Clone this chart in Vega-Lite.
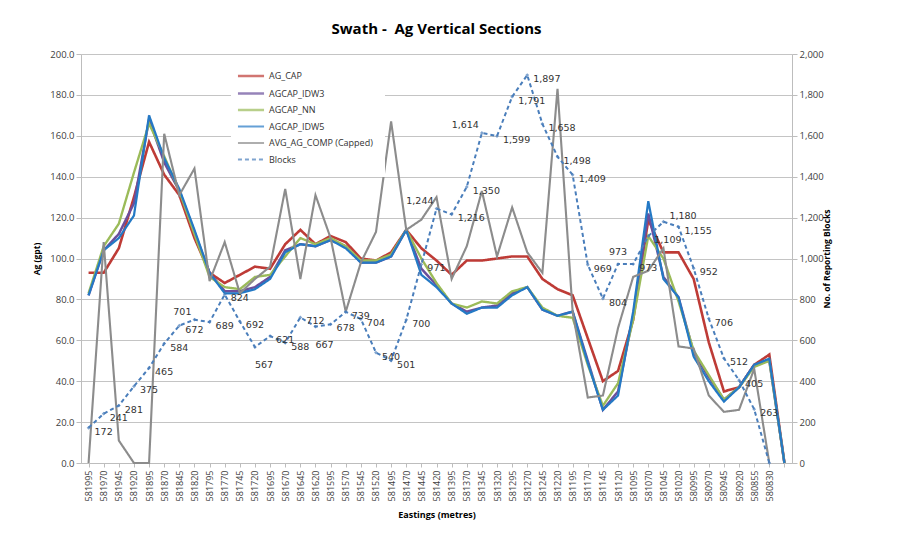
{
  "$schema": "https://vega.github.io/schema/vega-lite/v6.json",
  "width": 711,
  "height": 409,
  "padding": {"left": 32, "top": 22, "right": 10, "bottom": 5},
  "background": "white",
  "view": {"stroke": null},
  "config": {
    "font": "Open Sans",
    "axis": {"labelFont": "Open Sans", "titleFont": "Open Sans", "labelColor": "#404040", "titleColor": "#000000"}
  },
  "title": {"text": "Swath - \u00a0Ag Vertical Sections", "font": "Open Sans", "fontSize": 15, "fontWeight": "bold", "color": "#000000", "anchor": "middle", "offset": 12},
  "data": {"values": [
    {"Easting": "581995", "AG_CAP": 93, "AGCAP_IDW3": 82, "AGCAP_NN": 83, "AGCAP_IDW5": 82, "AVG_AG_COMP (Capped)": 0, "Blocks": 172},
    {"Easting": "581970", "AG_CAP": 93, "AGCAP_IDW3": 104, "AGCAP_NN": 106, "AGCAP_IDW5": 104, "AVG_AG_COMP (Capped)": 108, "Blocks": 241},
    {"Easting": "581945", "AG_CAP": 105, "AGCAP_IDW3": 112, "AGCAP_NN": 117, "AGCAP_IDW5": 110, "AVG_AG_COMP (Capped)": 11, "Blocks": 281},
    {"Easting": "581920", "AG_CAP": 130, "AGCAP_IDW3": 127, "AGCAP_NN": 142, "AGCAP_IDW5": 121, "AVG_AG_COMP (Capped)": 0, "Blocks": 375},
    {"Easting": "581895", "AG_CAP": 157, "AGCAP_IDW3": 168, "AGCAP_NN": 166, "AGCAP_IDW5": 170, "AVG_AG_COMP (Capped)": 0, "Blocks": 465},
    {"Easting": "581870", "AG_CAP": 141, "AGCAP_IDW3": 147, "AGCAP_NN": 150, "AGCAP_IDW5": 149, "AVG_AG_COMP (Capped)": 161, "Blocks": 584},
    {"Easting": "581845", "AG_CAP": 131, "AGCAP_IDW3": 133, "AGCAP_NN": 133, "AGCAP_IDW5": 134, "AVG_AG_COMP (Capped)": 131, "Blocks": 672},
    {"Easting": "581820", "AG_CAP": 110, "AGCAP_IDW3": 113, "AGCAP_NN": 112, "AGCAP_IDW5": 114, "AVG_AG_COMP (Capped)": 144, "Blocks": 701},
    {"Easting": "581795", "AG_CAP": 93, "AGCAP_IDW3": 93, "AGCAP_NN": 91, "AGCAP_IDW5": 93, "AVG_AG_COMP (Capped)": 89, "Blocks": 689},
    {"Easting": "581770", "AG_CAP": 88, "AGCAP_IDW3": 84, "AGCAP_NN": 86, "AGCAP_IDW5": 83, "AVG_AG_COMP (Capped)": 108, "Blocks": 824},
    {"Easting": "581745", "AG_CAP": 92, "AGCAP_IDW3": 84, "AGCAP_NN": 85, "AGCAP_IDW5": 83, "AVG_AG_COMP (Capped)": 83, "Blocks": 692},
    {"Easting": "581720", "AG_CAP": 96, "AGCAP_IDW3": 86, "AGCAP_NN": 91, "AGCAP_IDW5": 85, "AVG_AG_COMP (Capped)": 90, "Blocks": 567},
    {"Easting": "581695", "AG_CAP": 95, "AGCAP_IDW3": 91, "AGCAP_NN": 92, "AGCAP_IDW5": 90, "AVG_AG_COMP (Capped)": 96, "Blocks": 621},
    {"Easting": "581670", "AG_CAP": 107, "AGCAP_IDW3": 104, "AGCAP_NN": 101, "AGCAP_IDW5": 103, "AVG_AG_COMP (Capped)": 134, "Blocks": 588},
    {"Easting": "581645", "AG_CAP": 114, "AGCAP_IDW3": 107, "AGCAP_NN": 110, "AGCAP_IDW5": 107, "AVG_AG_COMP (Capped)": 90, "Blocks": 712},
    {"Easting": "581620", "AG_CAP": 107, "AGCAP_IDW3": 106, "AGCAP_NN": 107, "AGCAP_IDW5": 106, "AVG_AG_COMP (Capped)": 131, "Blocks": 667},
    {"Easting": "581595", "AG_CAP": 111, "AGCAP_IDW3": 109, "AGCAP_NN": 110, "AGCAP_IDW5": 109, "AVG_AG_COMP (Capped)": 110, "Blocks": 678},
    {"Easting": "581570", "AG_CAP": 108, "AGCAP_IDW3": 106, "AGCAP_NN": 106, "AGCAP_IDW5": 105, "AVG_AG_COMP (Capped)": 74, "Blocks": 739},
    {"Easting": "581545", "AG_CAP": 100, "AGCAP_IDW3": 98, "AGCAP_NN": 99, "AGCAP_IDW5": 98, "AVG_AG_COMP (Capped)": 98, "Blocks": 704},
    {"Easting": "581520", "AG_CAP": 99, "AGCAP_IDW3": 98, "AGCAP_NN": 99, "AGCAP_IDW5": 98, "AVG_AG_COMP (Capped)": 113, "Blocks": 540},
    {"Easting": "581495", "AG_CAP": 103, "AGCAP_IDW3": 101, "AGCAP_NN": 102, "AGCAP_IDW5": 101, "AVG_AG_COMP (Capped)": 167, "Blocks": 501},
    {"Easting": "581470", "AG_CAP": 114, "AGCAP_IDW3": 114, "AGCAP_NN": 114, "AGCAP_IDW5": 114, "AVG_AG_COMP (Capped)": 114, "Blocks": 700},
    {"Easting": "581445", "AG_CAP": 105, "AGCAP_IDW3": 95, "AGCAP_NN": 100, "AGCAP_IDW5": 92, "AVG_AG_COMP (Capped)": 119, "Blocks": 971},
    {"Easting": "581420", "AG_CAP": 99, "AGCAP_IDW3": 87, "AGCAP_NN": 88, "AGCAP_IDW5": 86, "AVG_AG_COMP (Capped)": 130, "Blocks": 1244},
    {"Easting": "581395", "AG_CAP": 92, "AGCAP_IDW3": 78, "AGCAP_NN": 78, "AGCAP_IDW5": 78, "AVG_AG_COMP (Capped)": 90, "Blocks": 1216},
    {"Easting": "581370", "AG_CAP": 99, "AGCAP_IDW3": 74, "AGCAP_NN": 76, "AGCAP_IDW5": 73, "AVG_AG_COMP (Capped)": 106, "Blocks": 1350},
    {"Easting": "581345", "AG_CAP": 99, "AGCAP_IDW3": 76, "AGCAP_NN": 79, "AGCAP_IDW5": 76, "AVG_AG_COMP (Capped)": 133, "Blocks": 1614},
    {"Easting": "581320", "AG_CAP": 100, "AGCAP_IDW3": 77, "AGCAP_NN": 78, "AGCAP_IDW5": 76, "AVG_AG_COMP (Capped)": 101, "Blocks": 1599},
    {"Easting": "581295", "AG_CAP": 101, "AGCAP_IDW3": 83, "AGCAP_NN": 84, "AGCAP_IDW5": 82, "AVG_AG_COMP (Capped)": 125, "Blocks": 1791},
    {"Easting": "581270", "AG_CAP": 101, "AGCAP_IDW3": 86, "AGCAP_NN": 86, "AGCAP_IDW5": 86, "AVG_AG_COMP (Capped)": 103, "Blocks": 1897},
    {"Easting": "581245", "AG_CAP": 90, "AGCAP_IDW3": 75, "AGCAP_NN": 76, "AGCAP_IDW5": 75, "AVG_AG_COMP (Capped)": 93, "Blocks": 1658},
    {"Easting": "581220", "AG_CAP": 85, "AGCAP_IDW3": 72, "AGCAP_NN": 72, "AGCAP_IDW5": 72, "AVG_AG_COMP (Capped)": 183, "Blocks": 1498},
    {"Easting": "581195", "AG_CAP": 82, "AGCAP_IDW3": 74, "AGCAP_NN": 71, "AGCAP_IDW5": 74, "AVG_AG_COMP (Capped)": 74, "Blocks": 1409},
    {"Easting": "581170", "AG_CAP": 61, "AGCAP_IDW3": 50, "AGCAP_NN": 48, "AGCAP_IDW5": 49, "AVG_AG_COMP (Capped)": 32, "Blocks": 969},
    {"Easting": "581145", "AG_CAP": 40, "AGCAP_IDW3": 26, "AGCAP_NN": 28, "AGCAP_IDW5": 26, "AVG_AG_COMP (Capped)": 33, "Blocks": 804},
    {"Easting": "581120", "AG_CAP": 45, "AGCAP_IDW3": 35, "AGCAP_NN": 39, "AGCAP_IDW5": 33, "AVG_AG_COMP (Capped)": 66, "Blocks": 973},
    {"Easting": "581095", "AG_CAP": 70, "AGCAP_IDW3": 72, "AGCAP_NN": 70, "AGCAP_IDW5": 74, "AVG_AG_COMP (Capped)": 91, "Blocks": 973},
    {"Easting": "581070", "AG_CAP": 119, "AGCAP_IDW3": 122, "AGCAP_NN": 111, "AGCAP_IDW5": 128, "AVG_AG_COMP (Capped)": 94, "Blocks": 1109},
    {"Easting": "581045", "AG_CAP": 103, "AGCAP_IDW3": 91, "AGCAP_NN": 100, "AGCAP_IDW5": 90, "AVG_AG_COMP (Capped)": 105, "Blocks": 1180},
    {"Easting": "581020", "AG_CAP": 103, "AGCAP_IDW3": 81, "AGCAP_NN": 79, "AGCAP_IDW5": 81, "AVG_AG_COMP (Capped)": 57, "Blocks": 1155},
    {"Easting": "580995", "AG_CAP": 90, "AGCAP_IDW3": 54, "AGCAP_NN": 55, "AGCAP_IDW5": 52, "AVG_AG_COMP (Capped)": 56, "Blocks": 952},
    {"Easting": "580970", "AG_CAP": 59, "AGCAP_IDW3": 42, "AGCAP_NN": 43, "AGCAP_IDW5": 40, "AVG_AG_COMP (Capped)": 33, "Blocks": 706},
    {"Easting": "580945", "AG_CAP": 35, "AGCAP_IDW3": 31, "AGCAP_NN": 31, "AGCAP_IDW5": 30, "AVG_AG_COMP (Capped)": 25, "Blocks": 512},
    {"Easting": "580920", "AG_CAP": 37, "AGCAP_IDW3": 37, "AGCAP_NN": 37, "AGCAP_IDW5": 37, "AVG_AG_COMP (Capped)": 26, "Blocks": 405},
    {"Easting": "580855", "AG_CAP": 48, "AGCAP_IDW3": 48, "AGCAP_NN": 47, "AGCAP_IDW5": 48, "AVG_AG_COMP (Capped)": 46, "Blocks": 263},
    {"Easting": "580830", "AG_CAP": 53, "AGCAP_IDW3": 50, "AGCAP_NN": 50, "AGCAP_IDW5": 51, "AVG_AG_COMP (Capped)": 0, "Blocks": 0},
    {"Easting": "", "AG_CAP": 0, "AGCAP_IDW3": 0, "AGCAP_NN": 0, "AGCAP_IDW5": 0, "AVG_AG_COMP (Capped)": null, "Blocks": null}
  ]},
  "transform": [
    {"fold": ["AG_CAP", "AGCAP_IDW3", "AGCAP_NN", "AGCAP_IDW5", "AVG_AG_COMP (Capped)", "Blocks"], "as": ["series", "value"]}
  ],
  "encoding": {
    "x": {
      "field": "Easting", "type": "ordinal", "sort": null,
      "scale": {"type": "point", "padding": 0.5},
      "axis": {"labelAngle": -90, "labelFontSize": 9, "labelPadding": 3, "tickSize": 4, "tickColor": "#bdbdbd", "domainColor": "#bdbdbd",
        "title": "Eastings (metres)", "titleFontSize": 9, "titleFontWeight": "bold", "titlePadding": 10}
    },
    "color": {
      "field": "series", "type": "nominal",
      "scale": {"domain": ["AG_CAP", "AGCAP_IDW3", "AGCAP_NN", "AGCAP_IDW5", "AVG_AG_COMP (Capped)", "Blocks"],
                "range": ["#be3b36", "#6a4f9c", "#9bbb59", "#2479c5", "#8c8c8c", "#4a7ebb"]},
      "legend": {"orient": "none", "legendX": 150, "legendY": 2, "title": null, "fillColor": "white", "padding": 12,
        "symbolType": "M-2,0L2,0", "symbolSize": 170, "symbolFillColor": "transparent", "labelFontSize": 9, "labelColor": "#333", "rowPadding": 3.5, "labelOffset": 10}
    },
    "strokeDash": {
      "field": "series", "type": "nominal",
      "scale": {"domain": ["AG_CAP", "AGCAP_IDW3", "AGCAP_NN", "AGCAP_IDW5", "AVG_AG_COMP (Capped)", "Blocks"],
                "range": [[1, 0], [1, 0], [1, 0], [1, 0], [1, 0], [4, 3]]},
      "legend": {"orient": "none", "legendX": 150, "legendY": 2, "title": null}
    },
    "strokeWidth": {
      "field": "series", "type": "nominal",
      "scale": {"domain": ["AG_CAP", "AGCAP_IDW3", "AGCAP_NN", "AGCAP_IDW5", "AVG_AG_COMP (Capped)", "Blocks"],
                "range": [2.6, 2, 1, 1.8, 1, 1.2]},
      "legend": {"orient": "none", "legendX": 150, "legendY": 2, "title": null}
    }
  },
  "layer": [
    {
      "transform": [{"filter": "datum.series != 'Blocks'"}],
      "mark": {"type": "line"},
      "encoding": {
        "y": {"field": "value", "type": "quantitative", "scale": {"domain": [0, 200]},
          "axis": {"values": [0, 20, 40, 60, 80, 100, 120, 140, 160, 180, 200], "format": ".1f", "labelFontSize": 9.5,
            "grid": true, "gridColor": "#c4c4c4", "domainColor": "#bdbdbd", "tickColor": "#bdbdbd", "tickSize": 5,
            "title": "Ag (gpt)", "titleFontSize": 8.5, "titleFontWeight": "bold", "titlePadding": 8}}
      }
    },
    {
      "transform": [{"filter": "datum.series == 'Blocks'"}],
      "encoding": {
        "y": {"field": "value", "type": "quantitative", "scale": {"domain": [0, 2000]},
          "axis": {"orient": "right", "values": [0, 200, 400, 600, 800, 1000, 1200, 1400, 1600, 1800, 2000], "format": ",.0f", "labelFontSize": 9.5,
            "grid": false, "domainColor": "#bdbdbd", "tickColor": "#bdbdbd", "tickSize": 5,
            "title": "No. of Reporting Blocks", "titleAngle": 270, "titleFontSize": 8.5, "titleFontWeight": "bold", "titlePadding": 8}}
      },
      "layer": [
        {"mark": {"type": "line"}},
        {"mark": {"type": "point", "shape": "diamond", "filled": true, "size": 14, "color": "#4a7ebb"}},
        {"transform": [{"filter": "datum.value > 0 && indexof(['581820','581420','581345','581120','581720','581620','581045'], datum.Easting) < 0"}],
         "mark": {"type": "text", "align": "left", "dx": 6, "dy": 4, "fontSize": 9.5, "font": "DejaVu Sans", "color": "#333333"},
         "encoding": {"text": {"field": "value", "type": "quantitative", "format": ","}, "color": {"value": "#333333"}, "strokeDash": {"value": [1,0]}, "strokeWidth": {"value": 0}}},
        {"transform": [{"filter": "indexof(['581820','581420','581345'], datum.Easting) >= 0"}],
         "mark": {"type": "text", "align": "right", "dx": -3, "dy": -8, "fontSize": 9.5, "font": "DejaVu Sans", "color": "#333333"},
         "encoding": {"text": {"field": "value", "type": "quantitative", "format": ","}, "color": {"value": "#333333"}, "strokeDash": {"value": [1,0]}, "strokeWidth": {"value": 0}}},
        {"transform": [{"filter": "datum.Easting == '581120'"}],
         "mark": {"type": "text", "align": "center", "dx": 0, "dy": -12, "fontSize": 9.5, "font": "DejaVu Sans", "color": "#333333"},
         "encoding": {"text": {"field": "value", "type": "quantitative", "format": ","}, "color": {"value": "#333333"}, "strokeDash": {"value": [1,0]}, "strokeWidth": {"value": 0}}},
        {"transform": [{"filter": "indexof(['581720','581620'], datum.Easting) >= 0"}],
         "mark": {"type": "text", "align": "left", "dx": 0, "dy": 18, "fontSize": 9.5, "font": "DejaVu Sans", "color": "#333333"},
         "encoding": {"text": {"field": "value", "type": "quantitative", "format": ","}, "color": {"value": "#333333"}, "strokeDash": {"value": [1,0]}, "strokeWidth": {"value": 0}}},
        {"transform": [{"filter": "datum.Easting == '581045'"}],
         "mark": {"type": "text", "align": "left", "dx": 6, "dy": -6, "fontSize": 9.5, "font": "DejaVu Sans", "color": "#333333"},
         "encoding": {"text": {"field": "value", "type": "quantitative", "format": ","}, "color": {"value": "#333333"}, "strokeDash": {"value": [1,0]}, "strokeWidth": {"value": 0}}}
      ]
    }
  ],
  "resolve": {"scale": {"y": "independent"}}
}
